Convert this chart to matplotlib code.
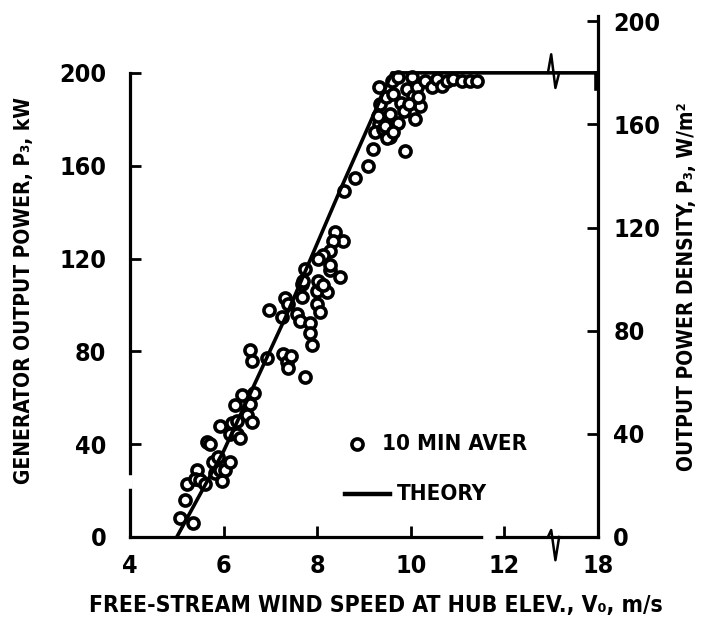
import matplotlib
matplotlib.use("Agg")
import matplotlib.pyplot as plt

# ---- data ----
# x positions beyond 12 m/s are drawn on a broken axis (18 m/s sits at the 14 position)
wind_speed = [
    5.07, 5.35, 5.18, 5.21, 5.43, 5.39, 5.50, 5.60, 5.64, 5.71, 5.78, 5.82, 5.96, 5.92,
    6.03, 6.14, 5.89, 5.92, 6.17, 6.14, 6.28, 6.35, 6.28, 6.42, 6.24, 6.56, 6.49, 6.60,
    6.64, 6.39,
    6.56, 6.60, 6.92, 6.96, 7.27, 7.35, 7.38, 7.45, 7.74, 7.24, 7.56, 7.31, 7.38, 7.63,
    7.67, 7.67, 7.85, 7.85, 7.88, 7.99, 8.06, 7.99, 8.09, 8.20, 8.02, 8.49, 8.27,
    9.20, 9.09, 8.81, 8.57, 8.38, 8.56, 8.34, 8.27, 8.13, 8.02, 8.27, 7.74, 7.70, 8.13,
    9.31, 9.34, 9.31, 9.41, 9.56, 9.66, 9.73, 9.56, 9.48, 9.62, 9.59, 9.73, 9.91, 10.02,
    10.05, 10.13, 10.02, 10.09, 10.20, 10.16, 10.30, 10.45, 10.55, 10.66, 10.77, 10.91,
    11.09, 11.26, 11.41, 9.79, 9.86, 9.96, 9.88, 9.23, 9.30, 9.40, 9.44, 9.50, 9.63,
]
power_kw = [
    8, 6, 16, 23, 29, 25, 24.5, 23, 41, 40, 32.5, 27.5, 24, 29,
    29, 32.5, 34.5, 48, 49, 44.5, 44.5, 42.5, 50, 58, 57, 57.5, 52.5, 49.5,
    62, 61,
    80.4, 76, 77, 97.6, 79, 75.4, 73, 78, 69, 94.8, 96, 102.8, 100.6, 93,
    103.4, 109, 92, 88, 82.6, 100.5, 97, 106, 109, 105.5, 110.5, 112, 115,
    167, 160, 154.7, 149.2, 131.3, 127.7, 127.7, 123.4, 121.3, 120, 117, 115.6, 110.5, 108.4,
    193.7, 186.5, 177.9, 175, 172.2, 178.6, 178.6, 182.2, 189.4, 190.8, 196.6, 198, 193, 198,
    190, 193.7, 183.7, 180, 185.8, 189.4, 196.6, 193.7, 197.3, 194.4, 196.6, 197.3,
    196.6, 196.6, 196.6, 187.2, 183.7, 186.5, 166.5, 174.7, 181.6, 176, 177.3, 172.1, 174.7,
]

theory_speed = [5.0, 6.0, 7.33, 8.48, 9.6, 18.0]
theory_kw = [0, 37, 95, 149, 200, 200]

x_ticks = [4, 6, 8, 10, 12, 18]
y_ticks_kw = [0, 40, 80, 120, 160, 200]
y_ticks_density = [0, 40, 80, 120, 160, 200]

KW_TO_DENSITY = 0.90   # W/m^2 per kW (rotor area scaling)
Y_TOP = 224.5          # kW at top of frame
BREAK_AT = 13.05       # axis position of the break symbol


def axis_pos(v):
    # broken axis: 4..12 linear, then 18 squeezed to position 14
    return v if v <= 12 else 12 + (v - 12) / 3.0


plt.rcParams['font.family'] = ['DejaVu Sans']
plt.rcParams['font.stretch'] = 'condensed'
plt.rcParams['font.weight'] = 'bold'
plt.rcParams['axes.labelweight'] = 'bold'

fig = plt.figure(figsize=(7.06, 6.26), dpi=100)
ax = fig.add_axes([130 / 706, 89 / 626, 468 / 706, 521 / 626])
ax.set_xlim(4, 14)
ax.set_ylim(0, Y_TOP)

ax2 = ax.twinx()
ax2.set_ylim(0, Y_TOP * KW_TO_DENSITY)

lw = 2.3
for s in ['top', 'right']:
    ax.spines[s].set_visible(False)
for s in ['top', 'left', 'bottom']:
    ax2.spines[s].set_visible(False)
ax.spines['left'].set_bounds(0, 200)
ax.spines['left'].set_linewidth(lw)
ax.spines['bottom'].set_linewidth(lw)
ax2.spines['right'].set_linewidth(lw)

# scatter + theory
ax.plot(wind_speed, power_kw, linestyle='none', marker='o', markersize=8,
        markerfacecolor='white', markeredgecolor='black', markeredgewidth=2.6, zorder=3)
ax.plot([axis_pos(v) for v in theory_speed], theory_kw, color='black', lw=2.6,
        solid_capstyle='butt', zorder=4, clip_on=False)

# break marks on theory line and on the x axis
bx = [BREAK_AT - 0.12, BREAK_AT - 0.05, BREAK_AT + 0.04, BREAK_AT + 0.12]
ax.plot(bx, [200, 208, 193.5, 200], color='black', lw=1.8, zorder=5, clip_on=False)
ax.plot(bx, [0, 3, -10, 0], color='black', lw=1.8, zorder=5, clip_on=False)
# little hook where the theory line meets the right frame
ax.plot([13.96, 13.96], [200, 193], color='black', lw=2.6, zorder=5, clip_on=False)
# scan gaps in the frame
ax.plot([11.6, 11.75], [0, 0], color='white', lw=4, zorder=6, clip_on=False)
ax.plot([4, 4], [22, 25.5], color='white', lw=4, zorder=6, clip_on=False)

# ticks
ax.set_xticks([axis_pos(v) for v in x_ticks])
ax.set_xticklabels([str(v) for v in x_ticks])
ax.set_yticks(y_ticks_kw)
ax.set_yticklabels([str(v) for v in y_ticks_kw])
ax2.set_yticks(y_ticks_density)
ax2.set_yticklabels([str(v) for v in y_ticks_density])

ax.tick_params(axis='x', direction='in', length=8, width=2, pad=12, labelsize=18)
ax.tick_params(axis='y', direction='in', length=8, width=2, pad=17, labelsize=18)
ax2.tick_params(axis='y', direction='in', length=8, width=2, pad=11, labelsize=18)

# axis labels
ax.set_xlabel('FREE-STREAM WIND SPEED AT HUB ELEV., V\u2080, m/s', fontsize=16.5)
ax.xaxis.set_label_coords(0.526, -0.131)
ax.xaxis.label.set_va('center')
ax.set_ylabel('GENERATOR OUTPUT POWER, P\u2083, kW', fontsize=15)
ax.yaxis.set_label_coords(-0.2265, 0.474)
ax.yaxis.label.set_va('center')
ax2.set_ylabel('OUTPUT POWER DENSITY, P\u2083, W/m\u00b2', fontsize=15)
ax2.yaxis.set_label_coords(1.19, 0.48)
ax2.yaxis.label.set_va('center')
ax2.yaxis.label.set_rotation(90)

# legend drawn by hand
ax.plot([0.485], [0.178], transform=ax.transAxes, marker='o', markersize=8,
        markerfacecolor='white', markeredgecolor='black', markeredgewidth=2.6, clip_on=False)
ax.text(0.538, 0.178, '10 MIN AVER', transform=ax.transAxes, fontsize=16,
        ha='left', va='center')
ax.plot([0.46, 0.555], [0.083, 0.083], transform=ax.transAxes, color='black', lw=3.2)
ax.text(0.57, 0.083, 'THEORY', transform=ax.transAxes, fontsize=16,
        ha='left', va='center')

fig.savefig('out.png', dpi=100)
